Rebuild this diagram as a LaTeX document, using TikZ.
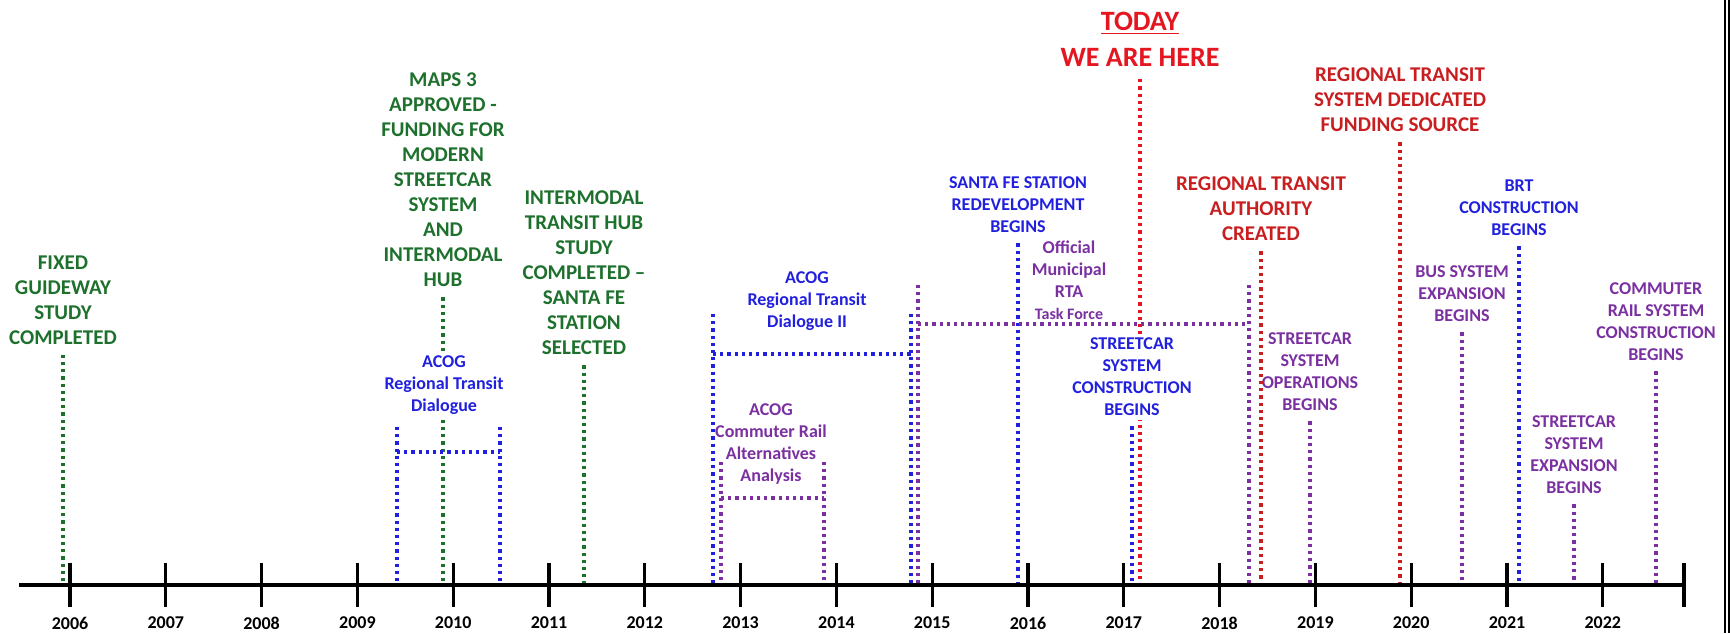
\documentclass[tikz,border=0pt]{standalone}
\usepackage{fontspec}
\setmainfont{Carlito}
\definecolor{tlgreen}{RGB}{30,112,45}
\definecolor{tlblue}{RGB}{32,32,222}
\definecolor{tlpurple}{RGB}{122,48,160}
\definecolor{tlred}{RGB}{228,22,32}
\definecolor{tldred}{RGB}{200,30,32}
\begin{document}
\begin{tikzpicture}[x=0.5pt, y=-0.5pt,
    evbig/.style={font=\bfseries\fontsize{10.5}{12.5}\selectfont, align=center, inner sep=2pt},
    evsmall/.style={font=\bfseries\fontsize{9}{11}\selectfont, align=center, inner sep=2pt},
    dotline/.style={line width=1.8pt, dash pattern=on 1.6pt off 2.0pt},
    drop/.style={dotline, shorten <=3pt}]
\useasboundingbox (0,0) rectangle (1730,633);
\coordinate (axis) at (0,585);

% events
\node[evbig, text=tlgreen] (fixed) at (63,300) {FIXED\\GUIDEWAY\\STUDY\\COMPLETED};
\node[evbig, text=tlgreen] (maps) at (443,180) {MAPS 3\\APPROVED -\\FUNDING FOR\\MODERN\\STREETCAR\\SYSTEM\\AND\\INTERMODAL\\HUB};
\node[evbig, text=tlgreen] (hub) at (584,273) {INTERMODAL\\TRANSIT HUB\\STUDY\\COMPLETED –\\SANTA FE\\STATION\\SELECTED};
\node[evsmall, text=tlblue] (santafe) at (1018,205) {SANTA FE STATION\\REDEVELOPMENT\\BEGINS};
\node[font=\bfseries\fontsize{14}{18}\selectfont, align=center, text=tlred] (today) at (1140,39) {\underline{TODAY}\\WE ARE HERE};
\node[evbig, text=tldred] (rtacreated) at (1261,209) {REGIONAL TRANSIT\\AUTHORITY\\CREATED};
\node[evsmall, text=tlpurple] (scops) at (1310,372) {STREETCAR\\SYSTEM\\OPERATIONS\\BEGINS};
\node[evbig, text=tldred] (funding) at (1400,100) {REGIONAL TRANSIT\\SYSTEM DEDICATED\\FUNDING SOURCE};
\node[evsmall, text=tlpurple] (bus) at (1462,294) {BUS SYSTEM\\EXPANSION\\BEGINS};
\node[evsmall, text=tlblue] (brt) at (1519,208) {BRT\\CONSTRUCTION\\BEGINS};
\node[evsmall, text=tlpurple] (scexp) at (1574,455) {STREETCAR\\SYSTEM\\EXPANSION\\BEGINS};
\node[evsmall, text=tlpurple] (crsys) at (1656,322) {COMMUTER\\RAIL SYSTEM\\CONSTRUCTION\\BEGINS};

\draw[drop, tlgreen] (fixed.south) -- (fixed.south |- axis);
\draw[drop, tlgreen] (maps.south) -- (maps.south |- axis);
\draw[drop, tlgreen] (hub.south) -- (hub.south |- axis);
\draw[drop, tlblue] (santafe.south) -- (santafe.south |- axis);
\draw[drop, tlred] (today.south) -- (today.south |- axis);
\draw[drop, tldred] (rtacreated.south) -- (rtacreated.south |- axis);
\draw[drop, tlpurple] (scops.south) -- (scops.south |- axis);
\draw[drop, tldred] (funding.south) -- (funding.south |- axis);
\draw[drop, tlpurple] (bus.south) -- (bus.south |- axis);
\draw[drop, tlblue] (brt.south) -- (brt.south |- axis);
\draw[drop, tlpurple] (scexp.south) -- (scexp.south |- axis);
\draw[drop, tlpurple] (crsys.south) -- (crsys.south |- axis);

% periods
\node[evsmall, text=tlblue, fill=white] (acog1) at (444,385) {ACOG\\Regional Transit\\Dialogue};
\coordinate (d1a) at (397,427); \coordinate (d1b) at (500,427);
\coordinate (d1c) at (397,452); \coordinate (d1d) at (500,452);
\draw[dotline, tlblue] (d1a) -- (d1a |- axis) (d1b) -- (d1b |- axis) (d1c) -- (d1d);

\node[evsmall, text=tlblue] (acog2) at (807,301) {ACOG\\Regional Transit\\Dialogue II};
\coordinate (d2a) at (713,314); \coordinate (d2b) at (911,314);
\coordinate (d2c) at (713,354); \coordinate (d2d) at (911,354);
\draw[dotline, tlblue] (d2a) -- (d2a |- axis) (d2b) -- (d2b |- axis) (d2c) -- (d2d);

\node[evsmall, text=tlpurple] (crail) at (771,444) {ACOG\\Commuter Rail\\Alternatives\\Analysis};
\coordinate (c1a) at (721,462); \coordinate (c1b) at (824,462);
\coordinate (c1c) at (721,498); \coordinate (c1d) at (824,498);
\draw[dotline, tlpurple] (c1a) -- (c1a |- axis) (c1b) -- (c1b |- axis) (c1c) -- (c1d);

\node[evsmall, text=tlpurple] (rta) at (1069,280) {Official\\Municipal\\RTA\\{\fontsize{8}{9}\selectfont Task Force}};
\coordinate (r1a) at (918,285); \coordinate (r1b) at (1249,285);
\coordinate (r1c) at (918,324); \coordinate (r1d) at (1249,324);
\draw[dotline, tlpurple] (r1a) -- (r1a |- axis) (r1b) -- (r1b |- axis) (r1c) -- (r1d);

\node[evsmall, text=tlblue, fill=white] (sccons) at (1132,377) {STREETCAR\\SYSTEM\\CONSTRUCTION\\BEGINS};
\draw[drop, tlblue] (sccons.south) -- (sccons.south |- axis);

% time axis
\coordinate (axl) at (19,585); \coordinate (axr) at (1684,585);
\draw[line width=2.2pt] (axl) -- (axr);
\draw[line width=1.6pt] (1684,563) -- (1684,607);
\foreach \yr [count=\i from 0] in {2006,...,2022} {
  \draw[line width=1.6pt] (70+95.8*\i,563) -- (70+95.8*\i,607);
  \node[font=\bfseries\fontsize{9}{11}\selectfont] (y\yr) at (70+95.8*\i,623) {\yr};
}

\draw[line width=1pt] (1725,0) -- (1725,633);
\draw[line width=1pt] (1729,0) -- (1729,633);
\end{tikzpicture}
\end{document}
